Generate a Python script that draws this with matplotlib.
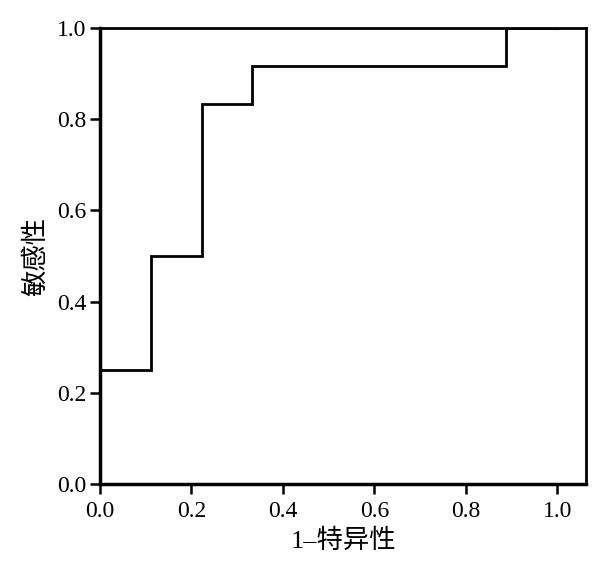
import matplotlib
matplotlib.use("Agg")
import matplotlib.pyplot as plt

# ROC step data (1-specificity, sensitivity)
fpr = [0.0, 0.0, 1/9, 1/9, 2/9, 2/9, 3/9, 3/9, 8/9, 8/9, 1.0]
tpr = [0.0, 0.25, 0.25, 0.5, 0.5, 0.8333, 0.8333, 0.9167, 0.9167, 1.0, 1.0]
xticks = [0.0, 0.2, 0.4, 0.6, 0.8, 1.0]
yticks = [0.0, 0.2, 0.4, 0.6, 0.8, 1.0]
xlabel = "1–特异性"
ylabel = "敏感性"

fam = ['Liberation Serif', 'Noto Sans CJK SC']
plt.rcParams['font.family'] = fam

fig = plt.figure(figsize=(6.06, 5.72), dpi=100)
ax = fig.add_axes([100/606, 1-484/572, 486/606, 456/572])
ax.plot(fpr, tpr, color='black', lw=2.0, solid_joinstyle='miter')
ax.set_xlim(0, 1.063)
ax.set_ylim(0, 1.0)
ax.set_xticks(xticks)
ax.set_yticks(yticks)
ax.set_xticklabels([f"{v:.1f}" for v in xticks])
ax.set_yticklabels([f"{v:.1f}" for v in yticks])
ax.tick_params(direction='out', length=7, width=1.8, labelsize=17, pad=3, colors='black')
ax.tick_params(axis='x', pad=5)
for s in ['left', 'bottom']:
    ax.spines[s].set_linewidth(2.5)
for s in ['top', 'right']:
    ax.spines[s].set_linewidth(2.0)
ax.set_xlabel(xlabel, fontsize=19, family=fam, labelpad=5)
ax.set_ylabel(ylabel, fontsize=19, family=fam, labelpad=6)

fig.savefig("out.png", dpi=100)
